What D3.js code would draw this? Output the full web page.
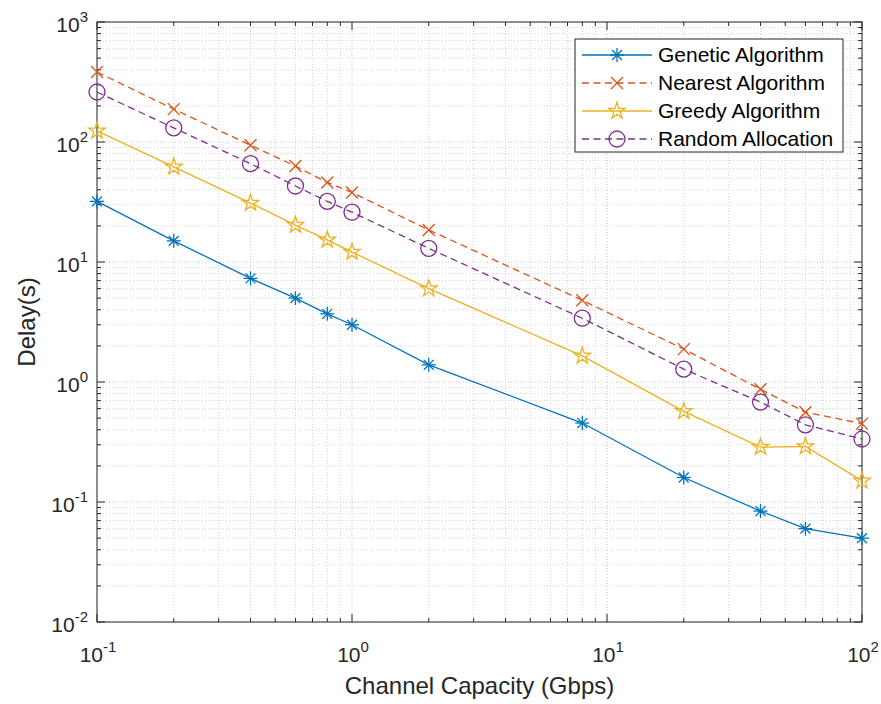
<!DOCTYPE html>
<html lang="en">
<head>
<meta charset="UTF-8">
<title>Delay vs Channel Capacity</title>
<style>
  body { margin: 0; background: #fff; font-family: Arial, "Liberation Sans", sans-serif; }
</style>
<script src="https://d3js.org/d3.v7.min.js"></script>
</head>
<body>
<div id="chart"></div>
<script>
// channel capacity (Gbps)
const capacity = [0.1, 0.2, 0.4, 0.6, 0.8, 1, 2, 8, 20, 40, 60, 100];

// delay (s) for each method
const genetic = [32, 15, 7.3, 5.0, 3.7, 3.0, 1.39, 0.455, 0.16, 0.084, 0.06, 0.05];
const nearest = [383, 188, 94, 63, 46, 38, 18.5, 4.8, 1.88, 0.87, 0.56, 0.45];
const greedy  = [124, 62, 31, 20.3, 15.3, 12.1, 6.0, 1.65, 0.57, 0.287, 0.29, 0.15];
const random  = [261, 131, 66, 43, 32, 26, 13, 3.4, 1.28, 0.68, 0.44, 0.335];

const seriesNames = ["Genetic Algorithm", "Nearest Algorithm", "Greedy Algorithm", "Random Allocation"];
const xTickExp = [-1, 0, 1, 2];
const yTickExp = [-2, -1, 0, 1, 2, 3];

const series = [
  {name: seriesNames[0], values: genetic, color: "#0072BD", dash: null, marker: "asterisk"},
  {name: seriesNames[1], values: nearest, color: "#D95319", dash: "7,4.5", marker: "cross"},
  {name: seriesNames[2], values: greedy, color: "#EDB120", dash: null, marker: "star"},
  {name: seriesNames[3], values: random, color: "#7E2F8E", dash: "7,4.5", marker: "circle"}
];

const W = 881, H = 704;
const margin = {top: 22, right: 19, bottom: 82, left: 97};
const width = W - margin.left - margin.right;
const height = H - margin.top - margin.bottom;
const axisColor = "#262626";

const svg = d3.select("#chart").append("svg")
  .attr("width", W).attr("height", H);

const g = svg.append("g").attr("transform", `translate(${margin.left},${margin.top})`);

const x = d3.scaleLog().domain([0.1, 100]).range([0, width]);
const y = d3.scaleLog().domain([0.01, 1000]).range([height, 0]);

// major + minor tick values
const xMinor = [], yMinor = [];
for (let e = -1; e < 2; e++) for (let k = 2; k <= 9; k++) xMinor.push(k * Math.pow(10, e));
for (let e = -2; e < 3; e++) for (let k = 2; k <= 9; k++) yMinor.push(k * Math.pow(10, e));
const xMajor = xTickExp.map(e => Math.pow(10, e));
const yMajor = yTickExp.map(e => Math.pow(10, e));

// grid
const grid = g.append("g");
grid.selectAll(".xmin").data(xMinor).enter().append("line")
  .attr("x1", d => x(d)).attr("x2", d => x(d)).attr("y1", 0).attr("y2", height)
  .attr("stroke", "#d4d4d4").attr("stroke-dasharray", "1,2");
grid.selectAll(".ymin").data(yMinor).enter().append("line")
  .attr("y1", d => y(d)).attr("y2", d => y(d)).attr("x1", 0).attr("x2", width)
  .attr("stroke", "#d4d4d4").attr("stroke-dasharray", "1,2");
grid.selectAll(".xmaj").data(xMajor).enter().append("line")
  .attr("x1", d => x(d)).attr("x2", d => x(d)).attr("y1", 0).attr("y2", height)
  .attr("stroke", "#c4c4c4").attr("stroke-dasharray", "1,2");
grid.selectAll(".ymaj").data(yMajor).enter().append("line")
  .attr("y1", d => y(d)).attr("y2", d => y(d)).attr("x1", 0).attr("x2", width)
  .attr("stroke", "#c4c4c4").attr("stroke-dasharray", "1,2");

// ticks inside on all four sides
const ticks = g.append("g").attr("stroke", axisColor).attr("stroke-width", 1);
function tickLines(vals, len, axis) {
  vals.forEach(v => {
    if (axis === "x") {
      ticks.append("line").attr("x1", x(v)).attr("x2", x(v)).attr("y1", height).attr("y2", height - len);
      ticks.append("line").attr("x1", x(v)).attr("x2", x(v)).attr("y1", 0).attr("y2", len);
    } else {
      ticks.append("line").attr("y1", y(v)).attr("y2", y(v)).attr("x1", 0).attr("x2", len);
      ticks.append("line").attr("y1", y(v)).attr("y2", y(v)).attr("x1", width).attr("x2", width - len);
    }
  });
}
tickLines(xMajor, 8, "x");
tickLines(xMinor, 4, "x");
tickLines(yMajor, 8, "y");
tickLines(yMinor, 4, "y");

// box
g.append("rect").attr("width", width).attr("height", height)
  .attr("fill", "none").attr("stroke", axisColor).attr("stroke-width", 1);

// tick labels
function powLabel(sel, e) {
  sel.append("tspan").text("10");
  sel.append("tspan").attr("dy", -10).attr("font-size", 15).text(e);
}
xTickExp.forEach(e => {
  const t = g.append("text").attr("x", x(Math.pow(10, e)) + 1).attr("y", height + 40)
    .attr("text-anchor", "middle").attr("font-size", 21).attr("fill", axisColor);
  powLabel(t, e);
});
yTickExp.forEach(e => {
  const t = g.append("text").attr("x", -9).attr("y", y(Math.pow(10, e)) + 10)
    .attr("text-anchor", "end").attr("font-size", 21).attr("fill", axisColor);
  powLabel(t, e);
});

// axis titles
g.append("text").attr("x", width / 2).attr("y", height + 72)
  .attr("text-anchor", "middle").attr("font-size", 24).attr("fill", axisColor)
  .text("Channel Capacity (Gbps)");
g.append("text").attr("transform", `translate(${-62},${height / 2}) rotate(-90)`)
  .attr("text-anchor", "middle").attr("font-size", 24).attr("fill", axisColor)
  .text("Delay(s)");

// marker shapes
function drawMarker(sel, type, color) {
  if (type === "asterisk") {
    const r = 7;
    [0, 45, 90, 135].forEach(a => {
      sel.append("line").attr("x1", 0).attr("y1", -r).attr("x2", 0).attr("y2", r)
        .attr("transform", `rotate(${a})`).attr("stroke", color).attr("stroke-width", 1.3);
    });
  } else if (type === "cross") {
    const r = 6;
    sel.append("path").attr("d", `M${-r},${-r}L${r},${r}M${-r},${r}L${r},${-r}`)
      .attr("stroke", color).attr("stroke-width", 1.3).attr("fill", "none");
  } else if (type === "star") {
    sel.append("path").attr("d", d3.symbol(d3.symbolStar, 85)())
      .attr("stroke", color).attr("stroke-width", 1.3).attr("fill", "none");
  } else if (type === "circle") {
    sel.append("circle").attr("r", 8).attr("stroke", color).attr("stroke-width", 1.3).attr("fill", "none");
  }
}

const line = d3.line().x(d => x(d[0])).y(d => y(d[1]));

series.forEach(s => {
  const pts = capacity.map((c, i) => [c, s.values[i]]);
  g.append("path").datum(pts).attr("d", line)
    .attr("fill", "none").attr("stroke", s.color).attr("stroke-width", 1.3)
    .attr("stroke-dasharray", s.dash);
  pts.forEach(p => {
    const m = g.append("g").attr("transform", `translate(${x(p[0])},${y(p[1])})`);
    drawMarker(m, s.marker, s.color);
  });
});

// legend
const lg = svg.append("g").attr("transform", "translate(575,39)");
lg.append("rect").attr("width", 268).attr("height", 113)
  .attr("fill", "#fff").attr("stroke", axisColor).attr("stroke-width", 1);
series.forEach((s, i) => {
  const yy = 16 + i * 28;
  lg.append("line").attr("x1", 7).attr("x2", 77).attr("y1", yy).attr("y2", yy)
    .attr("stroke", s.color).attr("stroke-width", 1.3).attr("stroke-dasharray", s.dash);
  const m = lg.append("g").attr("transform", `translate(42,${yy})`);
  drawMarker(m, s.marker, s.color);
  lg.append("text").attr("x", 83).attr("y", yy + 7).attr("font-size", 21)
    .attr("fill", "#000").text(s.name);
});
</script>
</body>
</html>
